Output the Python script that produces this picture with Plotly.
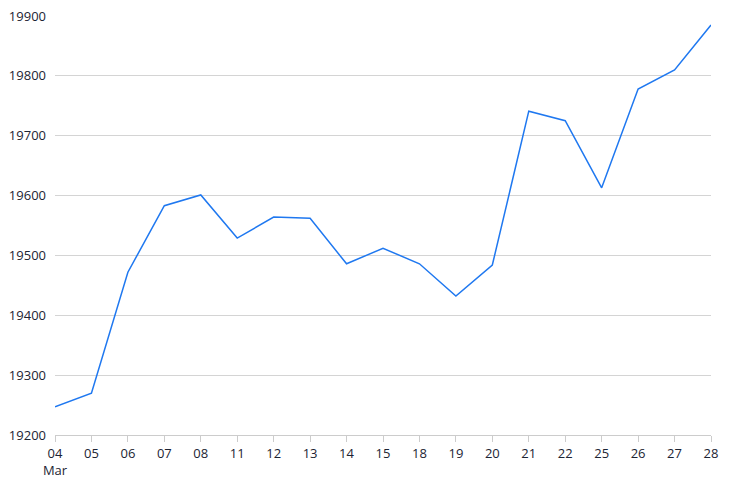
import plotly.graph_objects as go

# trading days, March
days = ["04", "05", "06", "07", "08", "11", "12", "13", "14", "15",
        "18", "19", "20", "21", "22", "25", "26", "27", "28"]
tick_text = ["04<br>Mar"] + days[1:]
values = [19247, 19270, 19472, 19583, 19601, 19529, 19564, 19562, 19486, 19512,
          19486, 19432, 19484, 19741, 19725, 19613, 19778, 19810, 19885]
y_ticks = [19200, 19300, 19400, 19500, 19600, 19700, 19800, 19900]

fig = go.Figure()
fig.add_trace(go.Scatter(
    x=list(range(len(days))),
    y=values,
    mode="lines",
    line=dict(color="#1f78f0", width=1.5),
    hoverinfo="skip",
))

# page body has an 8px margin, so the figure is a little smaller than the window
fig.update_layout(
    width=720, height=476,
    margin=dict(l=47, r=17, t=8, b=49),
    paper_bgcolor="white",
    plot_bgcolor="white",
    showlegend=False,
    font=dict(family="Open Sans, sans-serif", size=13, color="#1c2433"),
)
fig.update_xaxes(
    tickmode="array",
    tickvals=list(range(len(days))),
    ticktext=tick_text,
    range=[0, len(days) - 1],
    showgrid=False,
    showline=True, linecolor="#cccccc", linewidth=1,
    ticks="outside", ticklen=6, tickcolor="#cccccc",
    zeroline=False,
    automargin=False,
)
fig.update_yaxes(
    tickvals=y_ticks,
    tickformat="d",
    range=[19200, 19900],
    showgrid=True, gridcolor="#d4d4d4", gridwidth=1,
    showline=False,
    zeroline=False,
    ticks="", ticklabelstandoff=8,
    ticklabeloverflow="allow",
    automargin=False,
)

fig.write_html("out.html")
